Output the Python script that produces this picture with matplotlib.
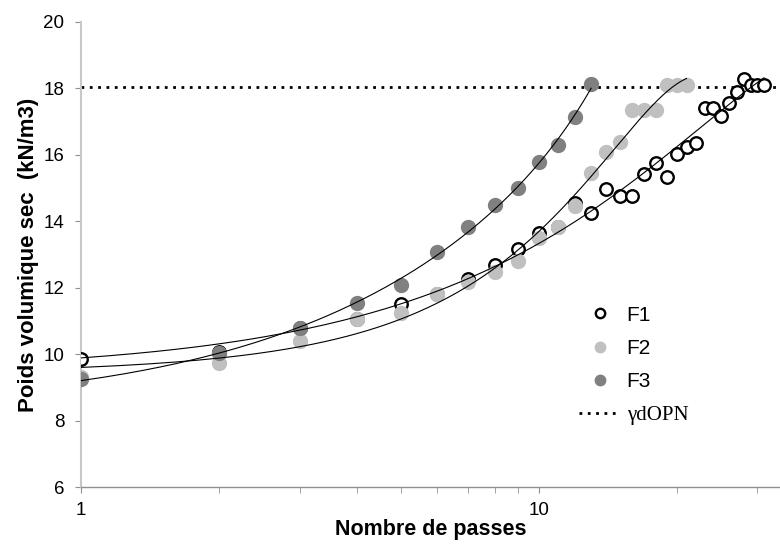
import matplotlib.pyplot as plt
from matplotlib.ticker import FixedLocator, NullFormatter
import numpy as np

# nombre de passes / poids volumique sec (kN/m3)
passes_f1 = np.arange(1, 32)
f1 = [9.85, 10.06, 10.8, 11.05, 11.5, 11.8, 12.26, 12.68, 13.16, 13.64,
      13.83, 14.55, 14.25, 14.97, 14.76, 14.76, 15.42, 15.75, 15.33, 16.02,
      16.23, 16.36, 17.4, 17.4, 17.16, 17.56, 17.89, 18.28, 18.1, 18.1, 18.1]

passes_f2 = np.arange(1, 22)
f2 = [9.3, 9.73, 10.39, 11.05, 11.23, 11.8, 12.17, 12.47, 12.8, 13.5,
      13.83, 14.45, 15.45, 16.1, 16.4, 17.35, 17.35, 17.35, 18.1, 18.1, 18.1]

passes_f3 = np.arange(1, 14)
f3 = [9.25, 10.03, 10.78, 11.54, 12.08, 13.07, 13.83, 14.49, 15.0, 15.78,
      16.3, 17.14, 18.13]

gamma_dopn = 18.05

c_f2 = '#c0c0c0'
c_f3 = '#808080'

fig = plt.figure(figsize=(7.8, 5.46), dpi=100)
ax = fig.add_axes([81/780, 1-487/546, (780-81)/780, (487-22)/546])

ax.plot(passes_f1, f1, 'o', ms=9, mfc='white', mec='black', mew=1.7, ls='none', zorder=3, label='F1')
ax.plot(passes_f2, f2, 'o', ms=10, mfc=c_f2, mec=c_f2, mew=1.0, ls='none', zorder=4, label='F2')
ax.plot(passes_f3, f3, 'o', ms=10, mfc=c_f3, mec=c_f3, mew=1.0, ls='none', zorder=5, label='F3')

# courbes de tendance (polynome)
for xs, ys, deg in [(passes_f1, f1, 2), (passes_f2, f2, 3), (passes_f3, f3, 3)]:
    p = np.polyfit(xs, ys, deg)
    xx = np.linspace(xs[0], xs[-1], 200)
    ax.plot(xx, np.polyval(p, xx), color='black', lw=0.8, zorder=6)

ax.axhline(gamma_dopn, color='black', lw=2, ls=(0, (1, 2)), zorder=2, label='\u03b3dOPN')

ax.set_xscale('log')
ax.set_xlim(1, 33.6)
ax.set_ylim(6, 20)
ax.set_yticks(np.arange(6, 21, 2))
ax.xaxis.set_major_locator(FixedLocator([1, 10]))
ax.set_xticklabels(['1', '10'])
ax.xaxis.set_minor_locator(FixedLocator([2, 3, 4, 5, 6, 7, 8, 9, 20, 30]))
ax.xaxis.set_minor_formatter(NullFormatter())

for s in ['top', 'right']:
    ax.spines[s].set_visible(False)
ax.spines['left'].set_color('#c8c8c8')
ax.spines['left'].set_linewidth(1.5)
ax.spines['bottom'].set_color('#909090')
ax.spines['bottom'].set_linewidth(1.0)

ax.tick_params(axis='both', which='both', direction='out', color='#909090', length=4,
               labelsize=13.5, labelfontfamily='Liberation Sans')
ax.tick_params(axis='y', pad=8)
ax.tick_params(axis='x', pad=7)

ax.set_xlabel('Nombre de passes', fontsize=15.5, fontweight='bold', family='Liberation Sans', labelpad=0)
ax.set_ylabel('Poids volumique sec  (kN/m3)', fontsize=16, fontweight='bold', family='Liberation Sans', labelpad=3)

leg = ax.legend(loc='upper left', bbox_to_anchor=(560/780, 1-287/546), bbox_transform=fig.transFigure,
                frameon=False, handlelength=2.0, handletextpad=0.3, labelspacing=0.68,
                markerscale=0.75, prop={'family': 'Liberation Sans', 'size': 15})
for t in leg.get_texts():
    if t.get_text() == '\u03b3dOPN':
        t.set_family('Liberation Serif')

fig.savefig('out.png', dpi=100)
